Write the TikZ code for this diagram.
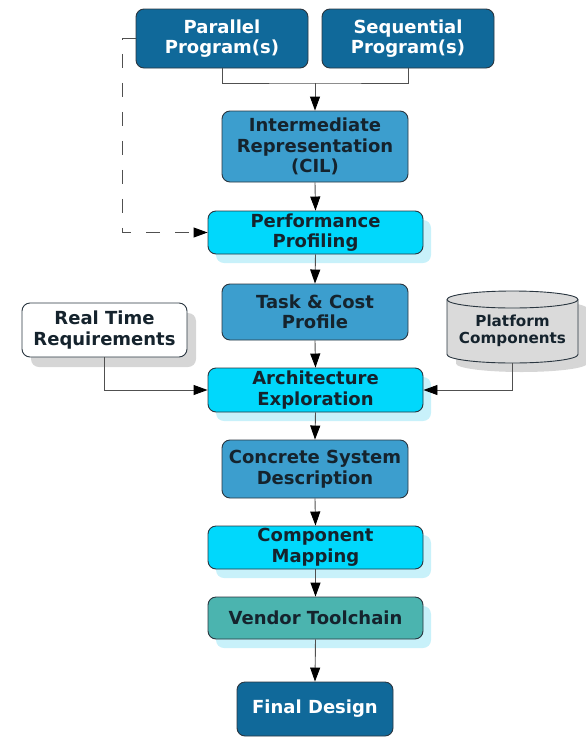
\documentclass[tikz,border=0pt]{standalone}
\usepackage{fontspec}
\setmainfont{DejaVu Sans}
\usetikzlibrary{arrows.meta,shadows}
\definecolor{darkb}{HTML}{10699A}
\definecolor{midb}{HTML}{3C9ECE}
\definecolor{cyanb}{HTML}{00D8FC}
\definecolor{tealb}{HTML}{4BB4AF}
\definecolor{cshadow}{HTML}{C8F1FA}
\definecolor{gshadow}{HTML}{D6D6D6}
\definecolor{platf}{HTML}{DADADA}
\definecolor{edge}{HTML}{2A3640}
\definecolor{txt}{HTML}{15232D}
\definecolor{linec}{HTML}{505050}
\tikzset{
  box/.style={draw=edge, line width=0.9pt, rounded corners=8pt, align=center, inner sep=0pt,
    font=\fontsize{18}{20.5}\selectfont\bfseries, text=txt},
  darkbox/.style={box, fill=darkb, text=white},
  midbox/.style={box, fill=midb},
  cyanbox/.style={box, fill=cyanb, drop shadow={shadow xshift=8pt, shadow yshift=-9pt, fill=cshadow, opacity=1}},
  tealbox/.style={box, fill=tealb, drop shadow={shadow xshift=8pt, shadow yshift=-9pt, fill=cshadow, opacity=1}},
  whitebox/.style={box, fill=white, drop shadow={shadow xshift=9pt, shadow yshift=-10pt, fill=gshadow, opacity=1}},
  conn/.style={draw=linec, line width=0.9pt},
  arr/.style={conn, -{Triangle[length=14pt,width=10pt,color=black]}},
  dasharr/.style={arr, dash pattern=on 14pt off 15pt},
}
\begin{document}
\begin{tikzpicture}[x=1pt,y=-1pt]
\useasboundingbox (0,0) rectangle (586,737);
\node[darkbox, minimum width=172, minimum height=59] (par) at (222,38.5) {Parallel\\Program(s)};
\node[darkbox, minimum width=172, minimum height=59] (seq) at (408,38.5) {Sequential\\Program(s)};
\node[midbox, minimum width=186, minimum height=71] (ir) at (315,146.5) {Intermediate\\Representation\\(CIL)};
\node[cyanbox, minimum width=215, minimum height=43] (perf) at (315.5,232.5) {Performance\\Profiling};
\node[midbox, minimum width=186, minimum height=56] (task) at (315,312) {Task \& Cost\\Profile};
\node[whitebox, minimum width=165, minimum height=54] (rt) at (104.5,330) {Real Time\\Requirements};
% cylinder
\fill[gshadow] (456,308.5) -- (456,363.5) arc (180:0:65.5 and 8.5) -- (587,308.5) arc (0:-180:65.5 and 8.5) -- cycle;
\draw[fill=platf, draw=edge, line width=0.9pt] (447,299.5) -- (447,354.5) arc (180:0:65.5 and 8.5) -- (578,299.5) arc (0:-180:65.5 and 8.5) -- cycle;
\draw[draw=edge, line width=0.9pt] (447,299.5) arc (180:0:65.5 and 8.5);
\node[align=center, inner sep=0pt, text=txt, font=\fontsize{15.2}{17}\selectfont\bfseries, minimum width=131, minimum height=64] (plat) at (512.5,331) {Platform\\Components};
\node[cyanbox, minimum width=215, minimum height=44] (arch) at (315.5,390) {Architecture\\Exploration};
\node[midbox, minimum width=186, minimum height=58] (conc) at (315,469) {Concrete System\\Description};
\node[cyanbox, minimum width=215, minimum height=43] (comp) at (315.5,547.5) {Component\\Mapping};
\node[tealbox, minimum width=215, minimum height=42] (vend) at (315.5,618) {Vendor Toolchain};
\node[darkbox, minimum width=156, minimum height=54] (fin) at (315,709) {Final Design};
% connectors
\coordinate (j) at (315,83);
\coordinate (d) at (122,38.5);
\draw[conn] (par.south) |- (j) -| (seq.south);
\draw[arr] (j) -- (ir.north);
\draw[dasharr] (par.west) -- (d) |- (perf.west);
\draw[arr] (ir.south) -- (perf.north);
\draw[arr] (perf.south) -- (task.north);
\draw[arr] (task.south) -- (arch.north);
\draw[arr] (rt.south) |- (arch.west);
\draw[arr] (plat.south) |- (arch.east);
\draw[arr] (arch.south) -- (conc.north);
\draw[arr] (conc.south) -- (comp.north);
\draw[arr] (comp.south) -- (vend.north);
\draw[arr] (vend.south) -- (fin.north);
\end{tikzpicture}
\end{document}
